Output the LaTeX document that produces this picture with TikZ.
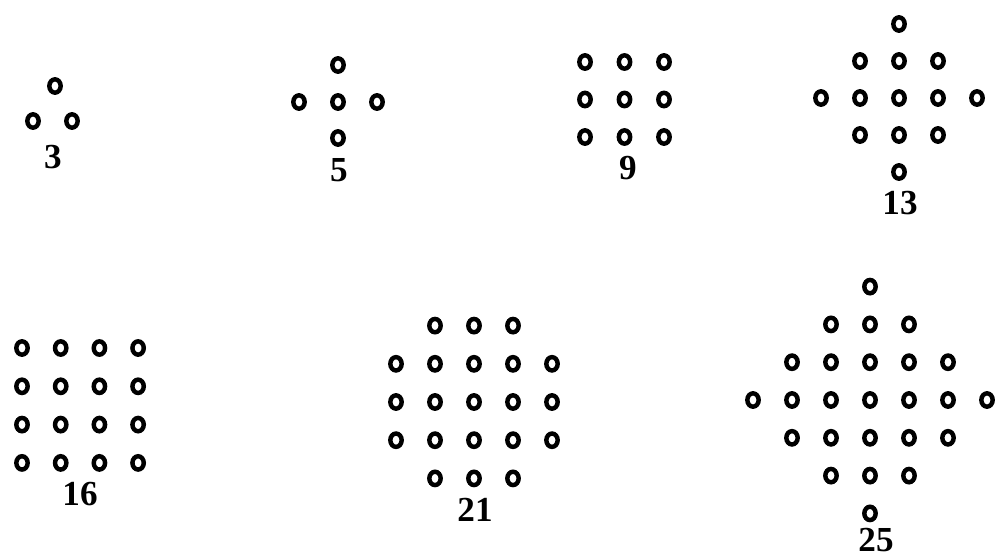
\documentclass[tikz,border=0pt]{standalone}
\usepackage{fontspec}
\setmainfont{Liberation Serif}
\usepackage{tikz}
\usetikzlibrary{shapes.geometric}
\tikzset{
    pebble/.style={ellipse, draw, line width=3.8pt, inner sep=0pt, minimum width=0.34cm, minimum height=0.40cm}, % one counter of a figure
    count/.style={inner sep=0pt, font=\fontsize{30}{32}\selectfont\bfseries} % the number under a figure
}

\begin{document}
\begin{tikzpicture}[x=0.03cm, y=-0.03cm]
    \useasboundingbox (0,0) rectangle (1001,559);

    % three
    \node[pebble] (a1) at (55,86) {};
    \node[pebble] (a2) at (33,121) {};
    \node[pebble] (a3) at (72,121) {};
    \node[count] (l3) at (53,157) {3};

    % five
    \node[pebble] (b0) at (338,102) {};
    \node[pebble] (b1) at (338,65) {};
    \node[pebble] (b2) at (299,102) {};
    \node[pebble] (b3) at (377,102) {};
    \node[pebble] (b4) at (338,138) {};
    \node[count] (l5) at (339,170) {5};

    % nine
    \foreach \r in {1,2,3}
        \foreach \c in {1,2,3}
            \node[pebble] (c\r\c) at ({585+39.5*(\c-1)},{62+37.5*(\r-1)}) {};
    \node[count] (l9) at (628,168) {9};

    % thirteen
    \foreach \r in {1,...,5}
        \foreach \c in {1,...,5}{
            \pgfmathtruncatemacro\dd{abs(\r-3)+abs(\c-3)}
            \ifnum\dd<3
                \node[pebble] (d\r\c) at ({899+39*(\c-3)},{98+37*(\r-3)}) {};
            \fi
        }
    \node[count] (l13) at (900,203) {13};

    % sixteen
    \foreach \r in {1,...,4}
        \foreach \c in {1,...,4}
            \node[pebble] (e\r\c) at ({22+38.7*(\c-1)},{348+38.3*(\r-1)}) {};
    \node[count] (l16) at (80,494) {16};

    % twenty-one
    \foreach \r in {1,...,5}
        \foreach \c in {1,...,5}{
            \pgfmathtruncatemacro\dd{abs(\r-3)+abs(\c-3)}
            \ifnum\dd<4
                \node[pebble] (f\r\c) at ({474+39*(\c-3)},{402+38.2*(\r-3)}) {};
            \fi
        }
    \node[count] (l21) at (475,510) {21};

    % twenty-five
    \foreach \r in {1,...,7}
        \foreach \c in {1,...,7}{
            \pgfmathtruncatemacro\dd{abs(\r-4)+abs(\c-4)}
            \ifnum\dd<4
                \node[pebble] (g\r\c) at ({870+39*(\c-4)},{400+37.8*(\r-4)}) {};
            \fi
        }
    \node[count] (l25) at (876,540) {25};
\end{tikzpicture}
\end{document}
